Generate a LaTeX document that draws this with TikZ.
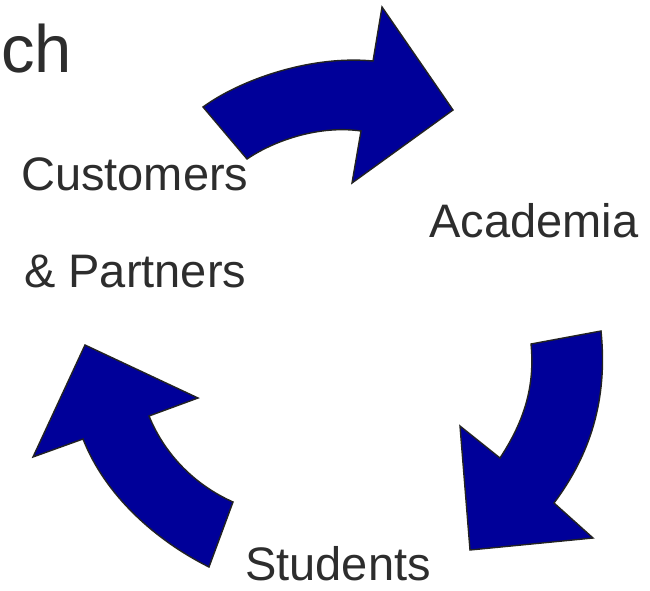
\documentclass[tikz,border=0pt]{standalone}
\usepackage{fontspec}
\setmainfont{Liberation Sans}
\definecolor{arrowblue}{RGB}{0,0,153}
\definecolor{edgegray}{RGB}{34,34,34}
\definecolor{textgray}{RGB}{45,45,45}
\begin{document}
\begin{tikzpicture}[x=1pt,y=-1pt,
  bigarrow/.style={fill=arrowblue,draw=edgegray,line width=1.4pt,line join=miter},
  label/.style={inner sep=0pt,text=textgray,font=\fontsize{47}{47}\selectfont},
  title/.style={inner sep=0pt,text=textgray,font=\fontsize{67}{67}\selectfont}]
\useasboundingbox (0,0) rectangle (650,591);
% title fragment
\node[title,anchor=base east] (title) at (72,73) {ch};
% labels
\node[label,anchor=base west] (cust) at (21,190) {Customers};
\node[label,anchor=base west] (part) at (24,287) {\& Partners};
\node[label,anchor=base west] (acad) at (429,237) {Academia};
\node[label,anchor=base west] (stud) at (245,580) {Students};
% top arrow
\path[bigarrow] (203,107) .. controls (240,80) and (310,55) .. (373,61)
  -- (382,7) -- (453,110) -- (352,183) -- (361,131)
  .. controls (320,125) and (275,140) .. (247,159) -- cycle;
% right arrow
\path[bigarrow] (531,344) -- (601,331)
  .. controls (608,400) and (590,455) .. (554,503)
  -- (593,538) -- (470,550) -- (460,426) -- (500,458)
  .. controls (525,420) and (535,385) .. (531,344) -- cycle;
% left arrow
\path[bigarrow] (85,345) -- (198,398) -- (149,416)
  .. controls (165,455) and (195,485) .. (233,502)
  -- (209,567)
  .. controls (155,540) and (105,495) .. (83,439)
  -- (33,457) -- cycle;
\end{tikzpicture}
\end{document}
